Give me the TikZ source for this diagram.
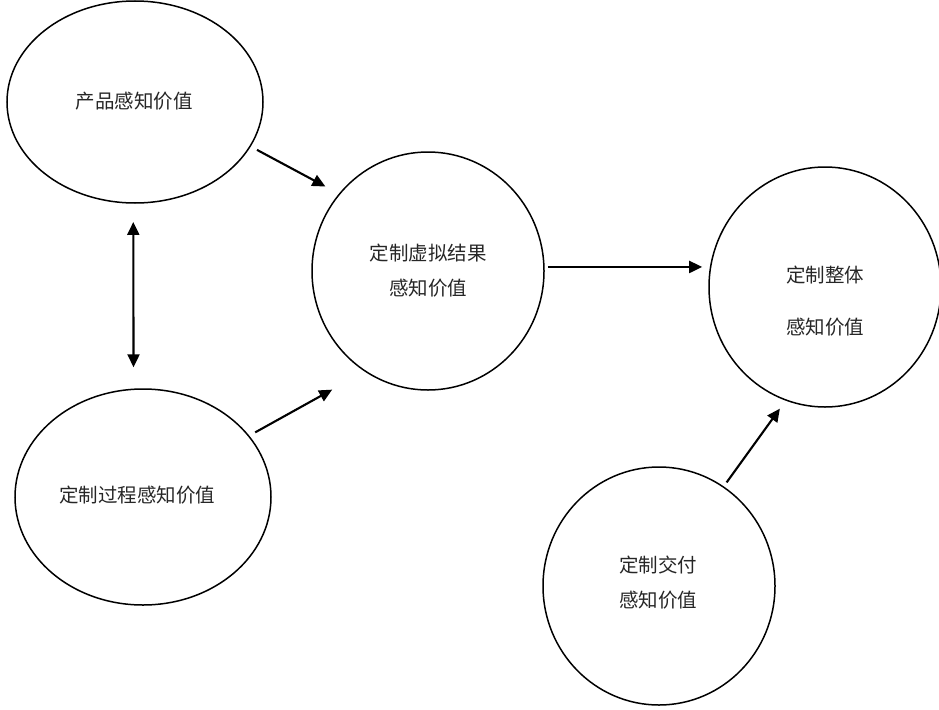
\documentclass[tikz,border=0pt]{standalone}
\usepackage{fontspec}
\setmainfont{Noto Sans CJK SC}
\usetikzlibrary{shapes.geometric,arrows.meta}
\tikzset{
  bubble/.style={ellipse,draw,line width=1.5pt,inner sep=0pt,outer sep=0pt},
  lbl/.style={font=\fontsize{19.5}{35}\selectfont,align=center,text=black!85,inner sep=0pt},
  conn/.style={line width=2.1pt,-{Triangle[length=13pt,width=12pt]}},
  both/.style={line width=2.1pt,{Triangle[length=13pt,width=12pt]}-{Triangle[length=13pt,width=12pt]}}
}
\begin{document}
\begin{tikzpicture}[x=1pt,y=-1pt]
\useasboundingbox (0,0) rectangle (939,709);
\node[bubble,minimum width=256pt,minimum height=202pt] (a) at (135,102) {};
\node[bubble,minimum width=232pt,minimum height=238pt] (b) at (428,271) {};
\node[bubble,minimum width=232pt,minimum height=240pt] (c) at (825,287) {};
\node[bubble,minimum width=256pt,minimum height=216pt] (d) at (143,497) {};
\node[bubble,minimum width=232pt,minimum height=238pt] (e) at (659,586) {};

\node[lbl] (ta) at (134,101) {产品感知价值};
\node[lbl] (tb) at (428,271) {定制虚拟结果\\感知价值};
\node[lbl,font=\fontsize{19.5}{52}\selectfont] (tc) at (825,301) {定制整体\\感知价值};
\node[lbl] (td) at (137,495) {定制过程感知价值};
\node[lbl] (te) at (658,583) {定制交付\\感知价值};

\draw[conn,shorten <=7.8pt,shorten >=16pt] (a.-21.05) -- (b.139.3);
\draw[both,shorten <=19pt,shorten >=22pt] (a.-91.1) -- (d.95.3);
\draw[conn,shorten <=7.5pt,shorten >=38pt] (d.30.2) -- (b.-122.8);
\draw[conn,shorten <=4pt,shorten >=8.8pt] (b.2.47) -- (c.169.6 |- b.2.47);
\draw[conn,shorten <=5.6pt,shorten >=10.6pt] (e.57.4) -- (c.251.7);
\end{tikzpicture}
\end{document}
